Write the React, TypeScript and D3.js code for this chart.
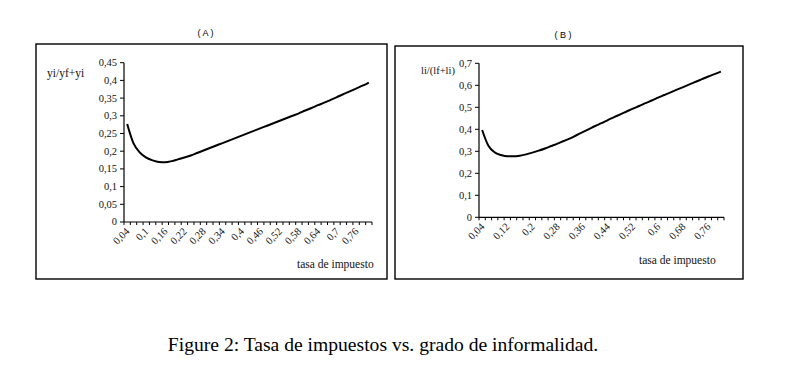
import React from "react";
import * as d3 from "d3";

// tax rates 0.04 .. 0.80, step 0.02 (one category each)
const taxRates = [
  "0,04", "0,06", "0,08", "0,1", "0,12", "0,14", "0,16", "0,18", "0,2", "0,22",
  "0,24", "0,26", "0,28", "0,3", "0,32", "0,34", "0,36", "0,38", "0,4", "0,42",
  "0,44", "0,46", "0,48", "0,5", "0,52", "0,54", "0,56", "0,58", "0,6", "0,62",
  "0,64", "0,66", "0,68", "0,7", "0,72", "0,74", "0,76", "0,78", "0,8",
];

// panel A: yi/(yf+yi)
const shareA = [
  0.277, 0.222, 0.196, 0.182, 0.174, 0.1695, 0.169, 0.172, 0.177, 0.182,
  0.188, 0.195, 0.202, 0.209, 0.216, 0.223, 0.230, 0.237, 0.244, 0.251,
  0.258, 0.265, 0.272, 0.279, 0.286, 0.293, 0.300, 0.307, 0.315, 0.322,
  0.330, 0.337, 0.345, 0.353, 0.361, 0.369, 0.377, 0.385, 0.394,
];

// panel B: li/(lf+li)
const shareB = [
  0.397, 0.325, 0.295, 0.283, 0.277, 0.277, 0.280, 0.286, 0.294, 0.303,
  0.313, 0.324, 0.335, 0.347, 0.359, 0.373, 0.387, 0.401, 0.415, 0.428,
  0.442, 0.455, 0.468, 0.481, 0.494, 0.506, 0.519, 0.531, 0.544, 0.556,
  0.568, 0.580, 0.592, 0.604, 0.616, 0.628, 0.640, 0.651, 0.662,
];

const yTicksA = [0, 0.05, 0.1, 0.15, 0.2, 0.25, 0.3, 0.35, 0.4, 0.45];
const yTicksB = [0, 0.1, 0.2, 0.3, 0.4, 0.5, 0.6, 0.7];

const tickFont = "'Liberation Serif', serif";
const fmt = (v: number) => String(+v.toFixed(2)).replace(".", ",");

type PanelProps = {
  title: string;
  yLabel: string;
  yLabelSize: number;
  values: number[];
  yTicks: number[];
  labelEvery: number;
  box: { x: number; y: number; w: number; h: number };
  plot: { left: number; right: number; top: number; bottom: number };
  yLabelPos: [number, number];
  xLabelPos: [number, number];
};

function Panel(p: PanelProps) {
  const yMax = p.yTicks[p.yTicks.length - 1];
  const x = d3.scaleBand<string>().domain(taxRates).range([p.plot.left, p.plot.right]).padding(0);
  const y = d3.scaleLinear().domain([0, yMax]).range([p.plot.bottom, p.plot.top]);
  const bw = x.bandwidth();

  const line = d3.line<number>()
    .x((_, i) => (x(taxRates[i]) as number) + bw / 2)
    .y(d => y(d))
    .curve(d3.curveMonotoneX);

  const boundaries = d3.range(taxRates.length + 1).map(i => p.plot.left + i * bw);

  return (
    <g>
      <text x={p.box.x + p.box.w / 2 - 6} y={p.box.y - 8} fontFamily="'Liberation Sans', Arial, sans-serif"
        fontSize={9} textAnchor="middle">{p.title}</text>
      <rect x={p.box.x} y={p.box.y} width={p.box.w} height={p.box.h} fill="none" stroke="#000" strokeWidth={1.4} />

      {/* y axis */}
      <line x1={p.plot.left} x2={p.plot.left} y1={p.plot.top} y2={p.plot.bottom} stroke="#000" strokeWidth={1.2} />
      {p.yTicks.map(t => (
        <g key={t}>
          <line x1={p.plot.left - 4} x2={p.plot.left} y1={y(t)} y2={y(t)} stroke="#000" strokeWidth={1} />
          <text x={p.plot.left - 7} y={y(t)} dy="0.33em" textAnchor="end" fontFamily={tickFont}
            fontSize={10.5} fill="#111">{fmt(t)}</text>
        </g>
      ))}

      {/* x axis */}
      <line x1={p.plot.left} x2={p.plot.right} y1={p.plot.bottom} y2={p.plot.bottom} stroke="#000" strokeWidth={1.2} />
      {boundaries.map((bx, i) => (
        <line key={i} x1={bx} x2={bx} y1={p.plot.bottom} y2={p.plot.bottom + 3} stroke="#000" strokeWidth={1} />
      ))}
      {taxRates.map((c, i) => i % p.labelEvery === 0 ? (
        <text key={c} transform={`translate(${(x(c) as number) + bw / 2 + 3},${p.plot.bottom + 10}) rotate(-45)`}
          textAnchor="end" fontFamily={tickFont} fontSize={10.5} fill="#111">{c}</text>
      ) : null)}

      <path d={line(p.values) ?? ""} fill="none" stroke="#000" strokeWidth={2} />

      <text x={p.yLabelPos[0]} y={p.yLabelPos[1]} fontFamily={tickFont} fontSize={p.yLabelSize} fill="#111">{p.yLabel}</text>
      <text x={p.xLabelPos[0]} y={p.xLabelPos[1]} fontFamily={tickFont} fontSize={11.5} fill="#111">tasa de impuesto</text>
    </g>
  );
}

export default function App() {
  return (
    <svg width={793} height={374} style={{ position: "absolute", left: 0, top: 0, background: "#fff" }}>
      <rect width={793} height={374} fill="#fff" />
      <Panel title="( A )" yLabel="yi/yf+yi" yLabelSize={11.5} values={shareA} yTicks={yTicksA} labelEvery={3}
        box={{ x: 36, y: 44, w: 351, h: 235 }}
        plot={{ left: 124, right: 372, top: 62.7, bottom: 222 }}
        yLabelPos={[47, 77]} xLabelPos={[297, 268]} />
      <Panel title="( B )" yLabel="li/(lf+li)" yLabelSize={10.5} values={shareB} yTicks={yTicksB} labelEvery={4}
        box={{ x: 395, y: 46, w: 348, h: 233 }}
        plot={{ left: 479, right: 724, top: 63.3, bottom: 217.3 }}
        yLabelPos={[421, 74]} xLabelPos={[639, 264]} />
      <text x={383} y={351} textAnchor="middle" fontFamily="'Liberation Serif', serif" fontSize={19.6} fill="#000">
        Figure 2: Tasa de impuestos vs. grado de informalidad.
      </text>
    </svg>
  );
}
